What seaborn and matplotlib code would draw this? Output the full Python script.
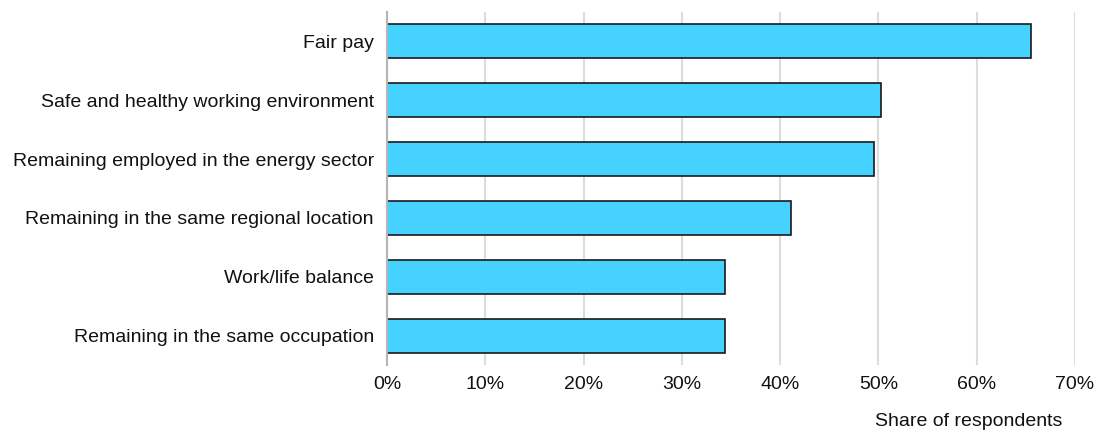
import matplotlib
matplotlib.use("Agg")
import matplotlib.pyplot as plt
from matplotlib.ticker import PercentFormatter
import seaborn as sns
import pandas as pd

# Survey results: what respondents value most in the energy transition
categories = [
    "Fair pay",
    "Safe and healthy working environment",
    "Remaining employed in the energy sector",
    "Remaining in the same regional location",
    "Work/life balance",
    "Remaining in the same occupation",
]
shares = [65.5, 50.3, 49.5, 41.1, 34.4, 34.4]
x_ticks = [0, 10, 20, 30, 40, 50, 60, 70]
x_title = "Share of respondents"

df = pd.DataFrame({"category": categories, "share": shares})

sns.set_theme(style="white")
plt.rcParams["font.family"] = ["Liberation Sans", "DejaVu Sans"]

fig = plt.figure(figsize=(10.97, 4.34), dpi=100)
ax = fig.add_axes([0.3528, 0.159, 0.6272, 0.8134])

sns.barplot(
    data=df, x="share", y="category", orient="h", ax=ax,
    color="#45D2FF", saturation=1, width=0.58,
    edgecolor="#1a1a1a", linewidth=1.2,
)

ax.set_xlim(0, 70)
ax.set_ylim(len(categories) - 0.5, -0.5)
ax.set_xticks(x_ticks)
ax.xaxis.set_major_formatter(PercentFormatter(decimals=0))
ax.grid(axis="x", color="#dcdcdc", linewidth=1.5)
ax.set_axisbelow(True)

for side in ("top", "right", "bottom"):
    ax.spines[side].set_visible(False)
ax.spines["left"].set_color("#b5b5b5")
ax.spines["left"].set_linewidth(1.5)

ax.tick_params(axis="both", length=0, labelsize=14, colors="#111111")
ax.tick_params(axis="y", pad=9.5)
ax.tick_params(axis="x", pad=8)

ax.set_ylabel("")
ax.set_xlabel(x_title, fontsize=14, color="#111111")
ax.xaxis.set_label_coords(0.845, -0.135)

fig.savefig("out.png", dpi=100)
